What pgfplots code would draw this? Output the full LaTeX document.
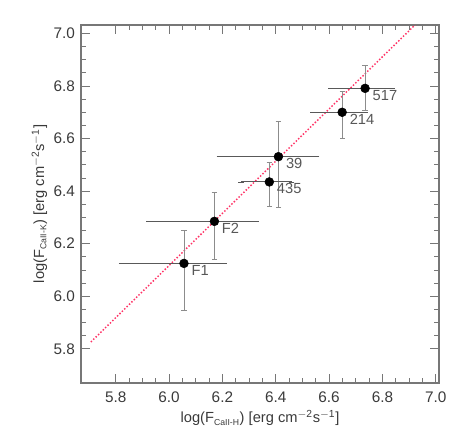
\documentclass[border=0pt]{standalone}
\usepackage{pgfplots}
\pgfplotsset{compat=1.18}
\usepackage{fontspec}
\setmainfont{Liberation Sans}
\definecolor{txt}{HTML}{3A3A3A}
\definecolor{axgray}{HTML}{777777}
\definecolor{fitpink}{HTML}{FF3366}
\tikzset{lbl/.style={anchor=north west, inner sep=0pt, xshift=5.5pt, yshift=-1pt,
        text=txt!85, font=\fontsize{11}{12}\selectfont}}

% asymmetric errors (log space)
\pgfplotstableread{
x      y      exp    exm    eyp    eym
6.735  6.791  0.102  0.129  0.086  0.082
6.649  6.700  0.086  0.109  0.081  0.099
6.410  6.531  0.144  0.222  0.133  0.193
6.376  6.435  0.084  0.106  0.075  0.094
6.170  6.285  0.156  0.245  0.109  0.145
6.056  6.125  0.151  0.234  0.127  0.180
}\stars

\begin{document}
\begin{tikzpicture}
\begin{axis}[
    name=ax,
    width=268.5pt, height=268.5pt, scale only axis,
    xmin=5.67, xmax=7.012, ymin=5.67, ymax=7.032,
    xtick={5.8,6.0,...,7.0}, ytick={5.8,6.0,...,7.0},
    minor tick num=3,
    tick align=inside, tick pos=both,
    major tick length=7pt, minor tick length=4pt,
    axis line style={axgray, line width=0.8pt},
    every tick/.style={axgray, line width=0.6pt},
    /pgf/number format/assume math mode=true,
    /pgf/number format/.cd, fixed, fixed zerofill, precision=1, /pgfplots/.cd,
    ticklabel style={font=\fontsize{11.5}{13}\selectfont, text=txt},
    xticklabel style={yshift=-3pt},
    yticklabel style={xshift=-1pt},
    xlabel={log(F\textsubscript{\fontsize{6.5}{7}\selectfont CaII-H}) [erg cm\textsuperscript{$-$2}s\textsuperscript{$-$1}]},
    ylabel={log(F\textsubscript{\fontsize{6.5}{7}\selectfont CaII-K}) [erg cm\textsuperscript{$-$2}s\textsuperscript{$-$1}]},
    label style={font=\fontsize{11}{12}\selectfont, text=txt},
    xlabel style={yshift=1pt},
    ylabel style={yshift=-2pt},
    clip=true,
]
% fit line
\addplot[fitpink, line width=1.1pt, dash pattern=on 1.1pt off 1.4pt] coordinates {(5.707,5.826) (6.95,7.06)};
% vertical error bars (light gray)
\addplot[only marks, mark=none, draw=none,
    error bars/.cd, y dir=both, y explicit,
    error bar style={black!45, line width=0.6pt},
    error mark options={rotate=90, black!45, mark size=2pt}]
    table[x=x, y=y, y error plus=eyp, y error minus=eym] {\stars};
% horizontal error bars (darker gray)
\addplot[only marks, mark=none, draw=none,
    error bars/.cd, x dir=both, x explicit,
    error bar style={black!65, line width=0.7pt},
    error mark options={black!65, mark size=2pt}]
    table[x=x, y=y, x error plus=exp, x error minus=exm] {\stars};
% points
\addplot[only marks, mark=*, mark size=3.3pt, black]
    table[x=x, y=y] {\stars};
% labels
\node[lbl] at (axis cs:6.735,6.791) {517};
\node[lbl] at (axis cs:6.649,6.700) {214};
\node[lbl] at (axis cs:6.410,6.531) {39};
\node[lbl] at (axis cs:6.376,6.435) {435};
\node[lbl] at (axis cs:6.170,6.285) {F2};
\node[lbl] at (axis cs:6.056,6.125) {F1};
\end{axis}
\path ([xshift=-60.75pt, yshift=-39.75pt]ax.south west) rectangle ([xshift=18pt, yshift=18.75pt]ax.north east);
\end{tikzpicture}
\end{document}
